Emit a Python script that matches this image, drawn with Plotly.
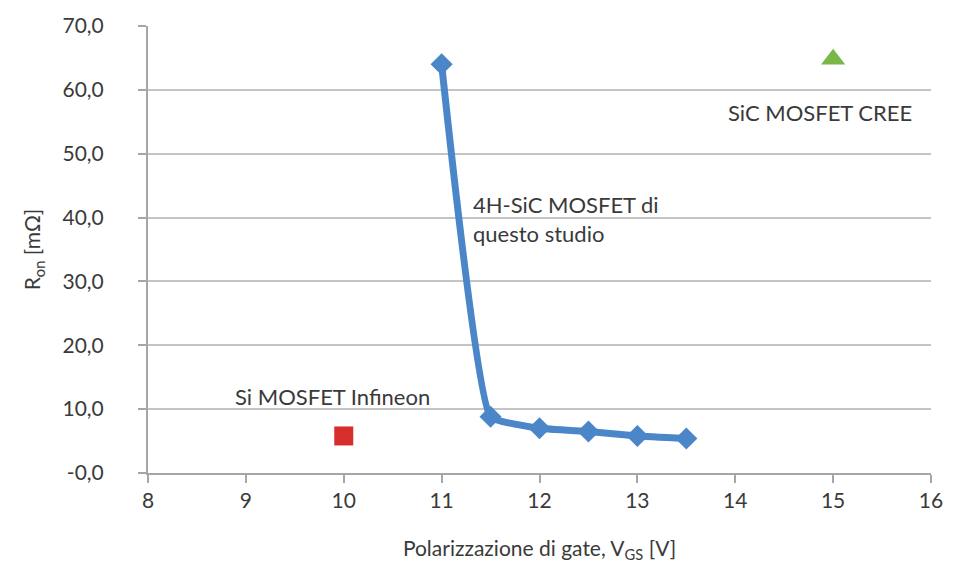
import plotly.graph_objects as go

# 4H-SiC MOSFET of this study: on-resistance vs gate bias
vgs_sic = [11, 11.5, 12, 12.5, 13, 13.5]
ron_sic = [64.0, 8.8, 7.0, 6.5, 5.8, 5.4]

# Reference devices
vgs_infineon = [10]
ron_infineon = [5.8]
vgs_cree = [15]
ron_cree = [64.8]

x_ticks = [8, 9, 10, 11, 12, 13, 14, 15, 16]
y_ticks = [0, 10, 20, 30, 40, 50, 60, 70]
y_tick_labels = ["-0,0", "10,0", "20,0", "30,0", "40,0", "50,0", "60,0", "70,0"]

font_family = "Lato, 'Open Sans', sans-serif"
text_color = "#3a3a3a"
axis_gray = "#a6a6a6"

fig = go.Figure()

fig.add_trace(go.Scatter(
    x=vgs_sic, y=ron_sic, mode="lines+markers",
    line=dict(color="#4a86c8", width=7, shape="spline", smoothing=0.35),
    marker=dict(symbol="diamond", size=17, color="#4a86c8"),
    showlegend=False,
))
fig.add_trace(go.Scatter(
    x=vgs_infineon, y=ron_infineon, mode="markers",
    marker=dict(symbol="square", size=19, color="#d62f2b"),
    showlegend=False,
))
fig.add_trace(go.Scatter(
    x=vgs_cree, y=ron_cree, mode="markers",
    marker=dict(symbol="triangle-up", size=21, color="#7ab648"),
    showlegend=False,
))

annot_font = dict(family=font_family, size=22, color=text_color)
fig.add_annotation(x=11.3, y=39.7, xref="x", yref="y",
                   text="4H-SiC MOSFET di<br>questo studio",
                   showarrow=False, xanchor="left", align="left", font=annot_font)
fig.add_annotation(x=14.87, y=56.5, xref="x", yref="y",
                   text="SiC MOSFET CREE",
                   showarrow=False, xanchor="center", font=annot_font)
fig.add_annotation(x=9.89, y=12.0, xref="x", yref="y",
                   text="Si MOSFET Infineon",
                   showarrow=False, xanchor="center", font=annot_font)

tick_font = dict(family=font_family, size=21, color=text_color)

fig.update_xaxes(
    range=[8, 16], tickvals=x_ticks, ticktext=[str(v) for v in x_ticks],
    showgrid=False, zeroline=False,
    showline=True, linecolor=axis_gray, linewidth=2,
    ticks="outside", ticklen=8, tickcolor=axis_gray, tickwidth=1.5,
    tickfont=tick_font,
    title=dict(text="Polarizzazione di gate, V<sub>GS</sub> [V]",
               font=dict(family=font_family, size=21, color=text_color),
               standoff=30),
)
fig.update_yaxes(
    range=[0, 70], tickvals=y_ticks, ticktext=y_tick_labels,
    showgrid=True, gridcolor="#c4c4c4", gridwidth=2, zeroline=False,
    showline=True, linecolor=axis_gray, linewidth=2,
    ticks="outside", ticklen=8, tickcolor=axis_gray, tickwidth=1.5,
    ticklabelstandoff=30,
    tickfont=tick_font,
    title=dict(text="R<sub>on</sub> [mΩ]",
               font=dict(family=font_family, size=21, color=text_color),
               standoff=16),
)

fig.update_layout(
    width=955, height=569,
    margin=dict(l=148, r=18, t=24, b=96),
    paper_bgcolor="white", plot_bgcolor="white",
)

fig.write_html("out.html")
